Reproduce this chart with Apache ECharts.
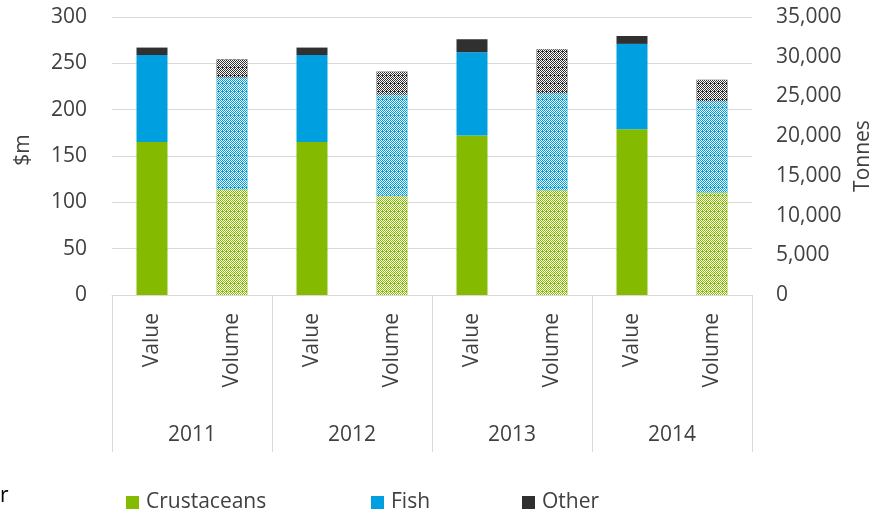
<!DOCTYPE html>
<html>
<head>
<meta charset="utf-8">
<script src="https://cdn.jsdelivr.net/npm/echarts@6/dist/echarts.min.js"></script>
<style>
  html, body { margin: 0; padding: 0; background: #ffffff; }
  #chart { width: 891px; height: 516px; }
</style>
</head>
<body>
<div id="chart"></div>
<script>
// Categories
const years = ['2011', '2012', '2013', '2014'];
const measures = ['Value', 'Volume'];

// Value ($m), left axis
const valueCrustaceans = [165, 165, 172, 179];
const valueFish = [94, 94, 90, 92];
const valueOther = [8, 8, 14, 8.5];

// Volume (tonnes), right axis
const volumeCrustaceans = [13300, 12500, 13200, 12900];
const volumeFish = [14100, 12700, 12200, 11500];
const volumeOther = [2260, 2930, 5540, 2700];

// Axis ticks
const leftTicks = { min: 0, max: 300, interval: 50 };
const rightTicks = { min: 0, max: 35000, interval: 5000 };

const FONT = '"Open Sans", "Noto Sans", sans-serif';
const TEXT = '#404040';
const GRID = '#d9d9d9';
const COLORS = { Crustaceans: '#84bb00', Fish: '#009fdf', Other: '#303030' };

// White dotted lattice laid over the volume bars
const latticeDecal = {
  symbol: 'rect',
  symbolSize: 1,
  color: '#ffffff',
  dashArrayX: [[1, 1], [0, 1, 1, 0], [1, 1], [0, 1, 1, 0], [1, 3], [0, 1, 1, 0], [1, 1], [0, 1, 1, 0]],
  dashArrayY: [1, 0],
  rotation: 0
};

const xCats = [];
years.forEach(() => measures.forEach(m => xCats.push(m)));

function onValue(arr) { const out = []; arr.forEach(v => { out.push(v, '-'); }); return out; }
function onVolume(arr) { const out = []; arr.forEach(v => { out.push('-', v); }); return out; }

const names = ['Crustaceans', 'Fish', 'Other'];
const valueSets = [valueCrustaceans, valueFish, valueOther];
const volumeSets = [volumeCrustaceans, volumeFish, volumeOther];

const series = [];
names.forEach((n, i) => {
  series.push({
    name: n, type: 'bar', stack: 'value', xAxisIndex: 0, yAxisIndex: 0,
    barWidth: 31, barGap: '-100%',
    itemStyle: { color: COLORS[n] },
    emphasis: { disabled: true },
    data: onValue(valueSets[i])
  });
});
names.forEach((n, i) => {
  series.push({
    name: n, type: 'bar', stack: 'volume', xAxisIndex: 0, yAxisIndex: 1,
    barWidth: 31, barGap: '-100%',
    itemStyle: { color: COLORS[n], decal: latticeDecal },
    emphasis: { disabled: true },
    data: onVolume(volumeSets[i])
  });
});

function legendAt(name, left) {
  return {
    data: [name], left: left, top: 487, icon: 'rect',
    itemWidth: 13, itemHeight: 13, itemGap: 0, selectedMode: false,
    textStyle: { fontFamily: FONT, fontSize: 21, color: TEXT, padding: [0, 0, 0, 2] }
  };
}

const option = {
  animation: false,
  backgroundColor: '#ffffff',
  textStyle: { fontFamily: FONT },
  grid: { left: 112, right: 139, top: 17, bottom: 221, containLabel: false },
  legend: [legendAt('Crustaceans', 121), legendAt('Fish', 366), legendAt('Other', 517)],
  xAxis: [
    {
      type: 'category', data: xCats, position: 'bottom',
      axisLine: { show: true, lineStyle: { color: GRID, width: 1 } },
      axisTick: { show: false },
      axisLabel: { rotate: 90, margin: 18, interval: 0, fontFamily: FONT, fontSize: 21, color: TEXT }
    },
    {
      type: 'category', data: years, position: 'bottom', offset: 0,
      axisLine: { show: false },
      axisTick: { show: true, length: 157, interval: 0, lineStyle: { color: GRID, width: 1 } },
      axisLabel: { margin: 130, interval: 0, fontFamily: FONT, fontSize: 21, color: TEXT }
    }
  ],
  yAxis: [
    {
      type: 'value', position: 'left', min: leftTicks.min, max: leftTicks.max, interval: leftTicks.interval,
      name: '$m', nameLocation: 'middle', nameGap: 78, nameRotate: 90,
      nameTextStyle: { fontFamily: FONT, fontSize: 21, color: TEXT, padding: [0, 0, 0, 12] },
      axisLine: { show: false }, axisTick: { show: false },
      axisLabel: { margin: 25, fontFamily: FONT, fontSize: 21, color: TEXT },
      splitLine: { show: true, lineStyle: { color: GRID, width: 1 } }
    },
    {
      type: 'value', position: 'right', min: rightTicks.min, max: rightTicks.max, interval: rightTicks.interval,
      name: 'Tonnes', nameLocation: 'middle', nameGap: 100, nameRotate: 90,
      nameTextStyle: { fontFamily: FONT, fontSize: 21, color: TEXT },
      axisLine: { show: false }, axisTick: { show: false },
      axisLabel: {
        margin: 24, fontFamily: FONT, fontSize: 21, color: TEXT,
        formatter: v => v.toLocaleString('en-US')
      },
      splitLine: { show: false }
    }
  ],
  graphic: [
    { type: 'text', left: 0, top: 486, style: { text: 'r', fontFamily: FONT, fontSize: 21, fill: '#000000' } }
  ],
  series: series
};

const chart = echarts.init(document.getElementById('chart'), null, { renderer: 'canvas' });
chart.setOption(option);
</script>
</body>
</html>
